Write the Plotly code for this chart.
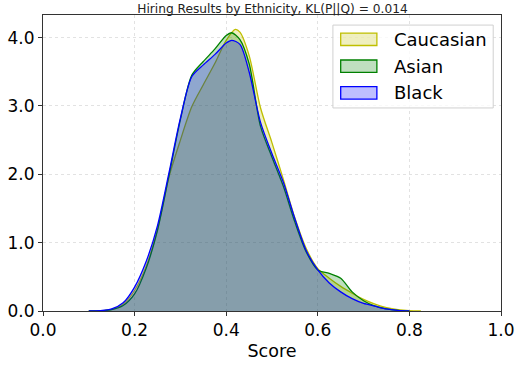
import plotly.graph_objects as go

# density estimates
x_cau = [0.10, 0.125, 0.15, 0.175, 0.20, 0.225, 0.25, 0.275, 0.30, 0.325, 0.35, 0.375, 0.40, 0.42, 0.43, 0.45,
         0.475, 0.50, 0.525, 0.55, 0.575, 0.60, 0.625, 0.65, 0.675, 0.70, 0.725, 0.75, 0.775, 0.80, 0.825]
y_cau = [0.0, 0.003, 0.025, 0.10, 0.30, 0.65, 1.20, 1.96, 2.50, 2.99, 3.31, 3.62, 3.96, 4.12, 4.08, 3.74,
         2.97, 2.46, 1.92, 1.36, 0.91, 0.62, 0.48, 0.36, 0.26, 0.17, 0.10, 0.05, 0.02, 0.005, 0.0]

x_asi = [0.10, 0.125, 0.15, 0.175, 0.20, 0.225, 0.25, 0.275, 0.30, 0.325, 0.35, 0.375, 0.40, 0.412, 0.43, 0.45,
         0.475, 0.50, 0.525, 0.55, 0.575, 0.60, 0.625, 0.65, 0.675, 0.70, 0.725, 0.75, 0.775, 0.80]
y_asi = [0.0, 0.003, 0.02, 0.08, 0.25, 0.62, 1.18, 1.98, 2.80, 3.45, 3.65, 3.83, 4.03, 4.07, 3.97, 3.62,
         2.70, 2.25, 1.82, 1.30, 0.86, 0.60, 0.55, 0.48, 0.28, 0.15, 0.07, 0.03, 0.01, 0.0]

x_blk = [0.10, 0.125, 0.15, 0.175, 0.20, 0.225, 0.25, 0.275, 0.30, 0.325, 0.35, 0.375, 0.40, 0.412, 0.43, 0.45,
         0.475, 0.50, 0.525, 0.55, 0.575, 0.60, 0.625, 0.65, 0.675, 0.70, 0.725, 0.75, 0.775, 0.80]
y_blk = [0.0, 0.005, 0.03, 0.12, 0.35, 0.72, 1.25, 2.02, 2.82, 3.43, 3.60, 3.75, 3.92, 3.96, 3.90, 3.50,
         2.76, 2.30, 1.88, 1.35, 0.88, 0.60, 0.41, 0.28, 0.18, 0.11, 0.07, 0.03, 0.01, 0.0]

names = ["Caucasian", "Asian", "Black"]
line_colors = ["rgb(191,191,0)", "rgb(0,128,0)", "rgb(0,0,255)"]
fill_colors = ["rgba(191,191,0,0.25)", "rgba(0,128,0,0.25)", "rgba(0,0,255,0.25)"]
xs_all = [x_cau, x_asi, x_blk]
ys_all = [y_cau, y_asi, y_blk]

fig = go.Figure()
for name, xs, ys, lc, fc in zip(names, xs_all, ys_all, line_colors, fill_colors):
    fig.add_trace(go.Scatter(x=xs, y=ys, name=name, mode="lines", fill="tozeroy",
                             line=dict(color=lc, width=1.3, shape="spline", smoothing=0.8),
                             fillcolor=fc, showlegend=False))

# matplotlib-style legend box drawn by hand (patches + labels)
fig.add_shape(type="rect", xref="paper", yref="paper", x0=0.633, x1=0.983, y0=0.686, y1=0.966,
              line=dict(color="#d0d0d0", width=1), fillcolor="rgba(255,255,255,0.8)", layer="above")
row_y = [0.918, 0.827, 0.737]
for name, lc, fc, ry in zip(names, line_colors, fill_colors, row_y):
    fig.add_shape(type="rect", xref="paper", yref="paper", x0=0.650, x1=0.729,
                  y0=ry - 0.021, y1=ry + 0.021, line=dict(color=lc, width=1.3),
                  fillcolor=fc, layer="above")
    fig.add_annotation(text=name, xref="paper", yref="paper", x=0.763, y=ry,
                       xanchor="left", yanchor="middle", showarrow=False,
                       font=dict(size=18, color="black"))

axis_common = dict(showline=True, linecolor="#333", linewidth=1, mirror=True,
                   ticks="outside", ticklen=4, tickcolor="#333", automargin=False,
                   showgrid=True, gridcolor="#e2e2e2", griddash="dot", gridwidth=1,
                   zeroline=False, tickfont=dict(size=17, color="black"))

fig.update_layout(
    width=527, height=367,
    margin=dict(l=43, r=26, t=15, b=56),
    paper_bgcolor="white", plot_bgcolor="white",
    font=dict(family="DejaVu Sans", color="black"),
    title=dict(text="Hiring Results by Ethnicity, KL(P||Q) = 0.014", x=0.517, xanchor="center",
               y=0.977, yanchor="middle", font=dict(size=12.2, color="#222")),
)
fig.update_xaxes(range=[0, 1], dtick=0.2, tickformat=".1f",
                 title=dict(text="Score", font=dict(size=17.5), standoff=5), **axis_common)
fig.update_yaxes(range=[0, 4.33], dtick=1, tickformat=".1f", **axis_common)

# page has a default 8px body margin; drop it so the figure sits at the window's corner
fig.write_html("out.html", config={"displayModeBar": False},
               post_script="document.body.style.margin='0';")
